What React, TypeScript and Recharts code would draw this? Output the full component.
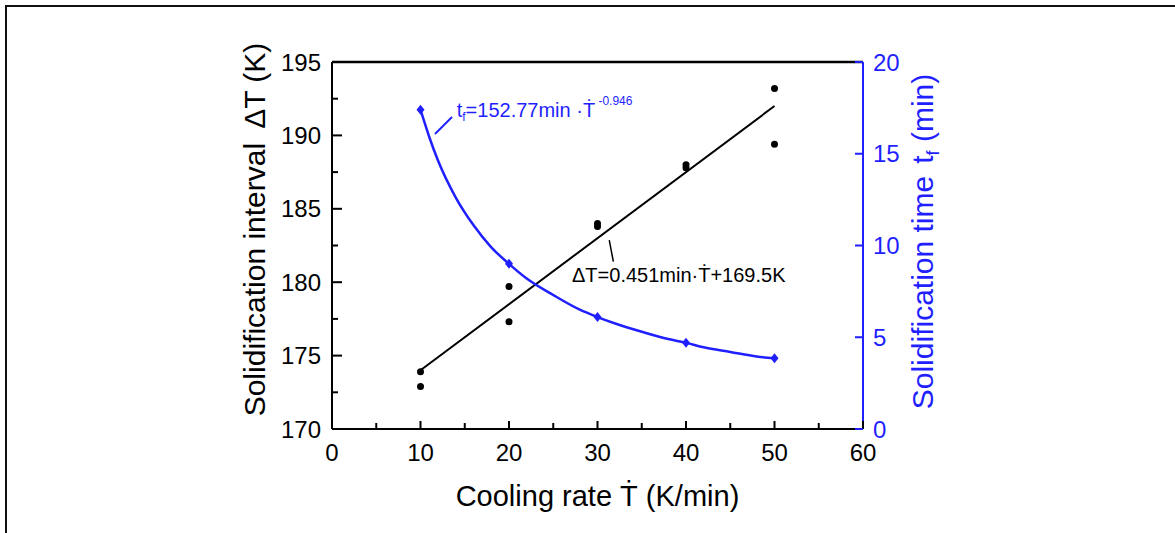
import {
  ComposedChart,
  Line,
  ReferenceDot,
  ReferenceLine,
  Scatter,
  XAxis,
  YAxis,
} from 'recharts';

const BLUE = '#1f1fff';
const FONT = '"Liberation Sans", Arial, sans-serif';

// measured points (two runs per cooling rate)
const coolingRates = [10, 20, 30, 40, 50];
const intervalRunA = [173.9, 179.7, 184.0, 188.0, 193.2];
const intervalRunB = [172.9, 177.3, 183.8, 187.8, 189.4];
const solidTimes = [17.4, 9.0, 6.1, 4.7, 3.85];

// linear fit line, end points
const fitRates = [10, 50];
const fitInterval = [174.0, 192.0];

// power-law curve
const curveRates = [10, 11, 12, 14, 16, 18, 20, 22, 25, 28, 30, 32, 35, 38, 40, 42, 45, 48, 50];
const curveTimes = [17.4, 15.9, 14.6, 12.6, 11.1, 9.9, 9.0, 8.2, 7.3, 6.5, 6.1, 5.75, 5.3, 4.9, 4.7, 4.45, 4.2, 3.95, 3.85];

const xTicks = [0, 5, 10, 15, 20, 25, 30, 35, 40, 45, 50, 55, 60];
const leftTicks = [170, 172.5, 175, 177.5, 180, 182.5, 185, 187.5, 190, 192.5, 195];
const rightTicks = [0, 5, 10, 15, 20];

const pointsA = coolingRates.map((x, i) => ({ x, dT: intervalRunA[i] }));
const pointsB = coolingRates.map((x, i) => ({ x, dT: intervalRunB[i] }));
const timePoints = coolingRates.map((x, i) => ({ x, tf: solidTimes[i] }));
const fitRows = fitRates.map((x, i) => ({ x, dT: fitInterval[i] }));
const curveRows = curveRates.map((x, i) => ({ x, tf: curveTimes[i] }));

function LeftTick(props: any) {
  const { x, y, payload } = props;
  const major = payload.value % 5 === 0;
  return (
    <g>
      <line x1={x} x2={x + (major ? 10 : 6)} y1={y} y2={y} stroke="#000" strokeWidth={2} />
      {major && (
        <text x={x - 11} y={y} dy="0.36em" textAnchor="end" fontSize={24} fontFamily={FONT} fill="#000">
          {payload.value}
        </text>
      )}
    </g>
  );
}

function RightTick(props: any) {
  const { x, y, payload } = props;
  return (
    <g>
      <line x1={x} x2={x - 8} y1={y} y2={y} stroke={BLUE} strokeWidth={2} />
      <text x={x + 10} y={y} dy="0.36em" textAnchor="start" fontSize={24} fontFamily={FONT} fill={BLUE}>
        {payload.value}
      </text>
    </g>
  );
}

function BottomTick(props: any) {
  const { x, y, payload } = props;
  const major = payload.value % 10 === 0;
  return (
    <g>
      <line x1={x} x2={x} y1={y} y2={y - (major ? 8 : 6)} stroke="#000" strokeWidth={2} />
      {major && (
        <text x={x} y={y + 32} textAnchor="middle" fontSize={24} fontFamily={FONT} fill="#000">
          {payload.value}
        </text>
      )}
    </g>
  );
}

const Dot = (p: any) => <circle cx={p.cx} cy={p.cy} r={3.5} fill="#000" />;
const Diamond = (p: any) => (
  <path d={`M${p.cx},${p.cy - 5}L${p.cx + 4},${p.cy}L${p.cx},${p.cy + 5}L${p.cx - 4},${p.cy}Z`} fill={BLUE} />
);

function LeftLabel(props: any) {
  const { viewBox } = props;
  const x = viewBox.x + 265;
  const y = viewBox.y + viewBox.height / 2 - 16;
  return (
    <text x={x} y={y} transform={`rotate(-90, ${x}, ${y})`} textAnchor="middle" fontSize={30} fontFamily={FONT} fill="#000">
      Solidification interval<tspan dx={14}>ΔT (K)</tspan>
    </text>
  );
}

function RightLabel(props: any) {
  const { viewBox } = props;
  const x = viewBox.x + 70;
  const y = viewBox.y + viewBox.height / 2 - 4;
  return (
    <text x={x} y={y} transform={`rotate(-90, ${x}, ${y})`} textAnchor="middle" fontSize={30} fontFamily={FONT} fill={BLUE}>
      Solidification time<tspan dx={12}>t</tspan>
      <tspan dy={6} fontSize={18}>f</tspan>
      <tspan dy={-6}> (min)</tspan>
    </text>
  );
}

function BottomLabel(props: any) {
  const { viewBox } = props;
  const x = viewBox.x + viewBox.width / 2;
  const y = viewBox.y + 77;
  return (
    <text x={x} y={y} textAnchor="middle" fontSize={29} fontFamily={FONT} fill="#000">
      Cooling rate Ṫ (K/min)
    </text>
  );
}

function PowerFormula(props: any) {
  const { viewBox } = props;
  return (
    <text x={viewBox.x} y={viewBox.y} fontSize={20} fontFamily={FONT} fill={BLUE}>
      t<tspan dy={4} fontSize={12}>f</tspan>
      <tspan dy={-4}>=152.77min ·Ṫ</tspan>
      <tspan dy={-12} fontSize={12}> -0.946</tspan>
    </text>
  );
}

function LinearFormula(props: any) {
  const { viewBox } = props;
  return (
    <text x={viewBox.x} y={viewBox.y} fontSize={20} fontFamily={FONT} fill="#000">
      ΔT=0.451min·Ṫ+169.5K
    </text>
  );
}

export default function App() {
  return (
    <div style={{ position: 'absolute', left: 0, top: 0, width: 1175, height: 533, background: '#fff' }}>
      <div
        style={{
          position: 'absolute',
          left: 5,
          top: 5,
          right: 0,
          bottom: 0,
          borderTop: '2.5px solid #111',
          borderLeft: '2.5px solid #111',
        }}
      />
      <ComposedChart width={1175} height={533} margin={{ top: 62, right: 0, bottom: 0, left: 0 }}>
        <XAxis
          type="number"
          dataKey="x"
          domain={[0, 60]}
          ticks={xTicks}
          interval={0}
          height={104}
          allowDataOverflow
          axisLine={{ stroke: '#000', strokeWidth: 2 }}
          tickLine={false}
          tickSize={0}
          tickMargin={0}
          tick={BottomTick}
          label={{ content: BottomLabel }}
        />
        <YAxis
          yAxisId="left"
          orientation="left"
          dataKey="dT"
          type="number"
          domain={[170, 195]}
          ticks={leftTicks}
          interval={0}
          width={332}
          allowDataOverflow
          axisLine={{ stroke: '#000', strokeWidth: 2 }}
          tickLine={false}
          tickSize={0}
          tickMargin={0}
          tick={LeftTick}
          label={{ content: LeftLabel }}
        />
        <YAxis
          yAxisId="right"
          orientation="right"
          dataKey="tf"
          type="number"
          domain={[0, 20]}
          ticks={rightTicks}
          interval={0}
          width={312}
          allowDataOverflow
          axisLine={{ stroke: BLUE, strokeWidth: 2 }}
          tickLine={false}
          tickSize={0}
          tickMargin={0}
          tick={RightTick}
          label={{ content: RightLabel }}
        />
        <ReferenceLine yAxisId="left" y={195} stroke="#000" strokeWidth={2.5} />

        <Line
          yAxisId="left"
          data={fitRows}
          dataKey="dT"
          type="linear"
          stroke="#000"
          strokeWidth={2}
          dot={false}
          isAnimationActive={false}
        />
        <Scatter yAxisId="left" data={pointsA} dataKey="dT" shape={Dot} isAnimationActive={false} />
        <Scatter yAxisId="left" data={pointsB} dataKey="dT" shape={Dot} isAnimationActive={false} />

        <Line
          yAxisId="right"
          data={curveRows}
          dataKey="tf"
          type="monotone"
          stroke={BLUE}
          strokeWidth={2.5}
          dot={false}
          isAnimationActive={false}
        />
        <Scatter yAxisId="right" data={timePoints} dataKey="tf" shape={Diamond} isAnimationActive={false} />

        {/* leader lines for the two fit equations */}
        <ReferenceLine
          yAxisId="right"
          segment={[{ x: 11.64, y: 16.08 }, { x: 13.56, y: 17.0 }]}
          stroke={BLUE}
          strokeWidth={2}
        />
        <ReferenceLine
          yAxisId="left"
          segment={[{ x: 31.33, y: 182.87 }, { x: 31.79, y: 181.4 }]}
          stroke="#000"
          strokeWidth={1.5}
        />
        <ReferenceDot yAxisId="right" x={14.09} y={17.02} r={0} stroke="none" fill="none" label={PowerFormula} />
        <ReferenceDot yAxisId="left" x={27.12} y={180.03} r={0} stroke="none" fill="none" label={LinearFormula} />
      </ComposedChart>
    </div>
  );
}
